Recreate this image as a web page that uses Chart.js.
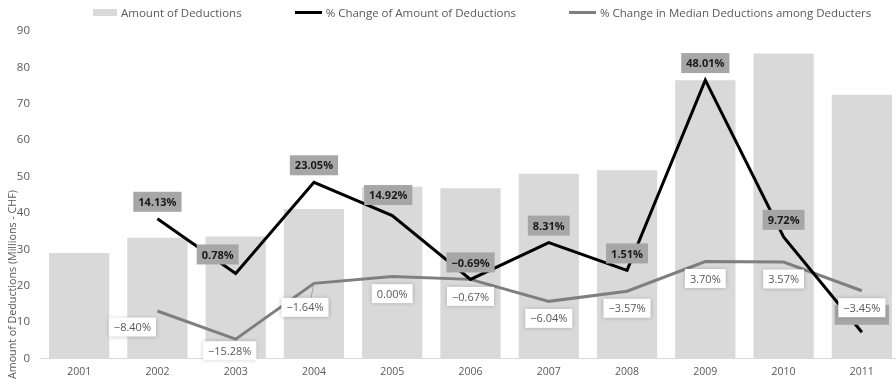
<!DOCTYPE html>
<html>
<head>
<meta charset="utf-8">
<script src="https://cdn.jsdelivr.net/npm/chart.js@4.4.0/dist/chart.umd.min.js"></script>
<style>
  html, body { margin: 0; padding: 0; background: #fff; overflow: hidden; }
  #wrap { position: relative; width: 905px; height: 380px; }
  #legend { position: absolute; top: 5px; left: 93px; display: flex; gap: 53px; font: 11.5px 'Open Sans'; color: #595959; white-space: nowrap; }
  #legend .item { display: flex; align-items: center; }
  #legend .swatch { display: inline-block; margin-right: 4px; }
</style>
</head>
<body>
<div id="wrap">
  <div id="legend"></div>
  <canvas id="chart"></canvas>
</div>
<script>
const years = ['2001', '2002', '2003', '2004', '2005', '2006', '2007', '2008', '2009', '2010', '2011'];
const amountDeductions = [29.0, 33.2, 33.5, 41.1, 47.2, 46.8, 50.8, 51.7, 76.5, 83.8, 72.5];
// % change series, plotted on a hidden -20..60 axis
const amountChange = [null, 14.13, 0.78, 23.05, 14.92, -0.69, 8.31, 1.51, 48.01, 9.72, -13.6];
const medianChange = [null, -8.40, -15.28, -1.64, 0.00, -0.67, -6.04, -3.57, 3.70, 3.57, -3.45];

// 2011 label of the black line is covered by the grey one in the original
const coveredLabel = 10;
// hand-placed labels [dx, dy], the rest sit 17px above / below the point
const labelNudges = {
  1: { 2: [-18, -19], 4: [-4, -20.5], 10: [0, -17.5] },
  2: { 1: [-25, 16], 2: [-6, 11.5], 3: [-9, 24] }
};

const fmt = v => v.toFixed(2).replace('-', '\u2212') + '%';

const pointLabels = {
  id: 'pointLabels',
  afterDatasetsDraw(chart) {
    const ctx = chart.ctx;
    [1, 2].forEach(di => {
      const ds = chart.data.datasets[di];
      const meta = chart.getDatasetMeta(di);
      const dark = di === 1;
      meta.data.forEach((pt, i) => {
        const v = ds.data[i];
        if (v === null) return;
        const [dx, dy] = labelNudges[di][i] || [0, dark ? -17 : 17];
        const cx = pt.x + dx, cy = pt.y + dy;
        ctx.save();
        ctx.font = (dark ? 'bold ' : '') + '11px "Open Sans"';
        const w = ctx.measureText(fmt(v)).width + 10;
        const h = dark ? 20 : 19;
        if (dark) {
          ctx.fillStyle = '#a6a6a6';
          ctx.fillRect(cx - w / 2, cy - h / 2, w, h);
        } else {
          if (dy > 20) {
            ctx.strokeStyle = '#8c8c8c';
            ctx.lineWidth = 0.75;
            ctx.beginPath();
            ctx.moveTo(pt.x - 3, cy - h / 2);
            ctx.lineTo(pt.x, pt.y);
            ctx.stroke();
          }
          ctx.shadowColor = 'rgba(0,0,0,0.22)';
          ctx.shadowBlur = 4;
          ctx.fillStyle = '#ffffff';
          ctx.fillRect(cx - w / 2, cy - h / 2, w, h);
          ctx.shadowBlur = 0;
        }
        if (!(dark && i === coveredLabel)) {
          ctx.fillStyle = dark ? '#1a1a1a' : '#595959';
          ctx.textAlign = 'center';
          ctx.textBaseline = 'middle';
          ctx.fillText(fmt(v), cx, cy + 1);
        }
        ctx.restore();
      });
    });
  }
};

const yTitle = {
  id: 'yTitle',
  afterDraw(chart) {
    const ctx = chart.ctx;
    ctx.save();
    ctx.translate(13, 379);
    ctx.rotate(-Math.PI / 2);
    ctx.font = '10.7px "Open Sans"';
    ctx.fillStyle = '#595959';
    ctx.textAlign = 'left';
    ctx.textBaseline = 'middle';
    ctx.fillText('Amount of Deductions (Millions - CHF)', 0, 0);
    ctx.restore();
  }
};

const htmlLegend = {
  id: 'htmlLegend',
  afterUpdate(chart) {
    const box = document.getElementById('legend');
    box.innerHTML = '';
    chart.data.datasets.forEach(ds => {
      const item = document.createElement('div');
      item.className = 'item';
      const sw = document.createElement('span');
      sw.className = 'swatch';
      if (ds.type === 'line') {
        sw.style.width = '27px';
        sw.style.height = ds.borderWidth + 'px';
        sw.style.background = ds.borderColor;
      } else {
        sw.style.width = '24px';
        sw.style.height = '7px';
        sw.style.background = ds.backgroundColor;
      }
      const txt = document.createElement('span');
      txt.textContent = ds.label;
      item.appendChild(sw);
      item.appendChild(txt);
      box.appendChild(item);
    });
  }
};

new Chart(document.getElementById('chart'), {
  type: 'bar',
  data: {
    labels: years,
    datasets: [
      {
        type: 'bar',
        label: 'Amount of Deductions',
        data: amountDeductions,
        backgroundColor: '#d9d9d9',
        borderWidth: 0,
        categoryPercentage: 1,
        barPercentage: 0.77,
        yAxisID: 'y',
        order: 3
      },
      {
        type: 'line',
        label: '% Change of Amount of Deductions',
        data: amountChange,
        borderColor: '#000000',
        borderWidth: 3,
        pointRadius: 0,
        tension: 0,
        yAxisID: 'yChange',
        order: 1
      },
      {
        type: 'line',
        label: '% Change in Median Deductions among Deducters',
        data: medianChange,
        borderColor: '#7f7f7f',
        borderWidth: 3,
        pointRadius: 0,
        tension: 0,
        yAxisID: 'yChange',
        order: 2
      }
    ]
  },
  options: {
    responsive: true,
    maintainAspectRatio: false,
    animation: false,
    layout: { padding: { top: 31, right: 4, bottom: 0, left: 0 } },
    plugins: {
      legend: { display: false },
      tooltip: { enabled: false }
    },
    scales: {
      x: {
        ticks: { color: '#595959', font: { family: 'Open Sans', size: 10.5 }, padding: 7 },
        grid: { color: 'rgba(0,0,0,0)', drawTicks: false },
        border: { color: '#d9d9d9', width: 1 },
        afterFit(s) { s.height = 21.5; }
      },
      y: {
        min: 0,
        max: 90,
        ticks: { stepSize: 10, color: '#595959', font: { family: 'Open Sans', size: 11.5 }, padding: 10 },
        grid: { display: false, drawTicks: false },
        border: { display: false },
        afterFit(s) { s.width = 40; }
      },
      yChange: {
        display: false,
        min: -20,
        max: 60
      }
    }
  },
  plugins: [pointLabels, yTitle, htmlLegend]
});
</script>
</body>
</html>
